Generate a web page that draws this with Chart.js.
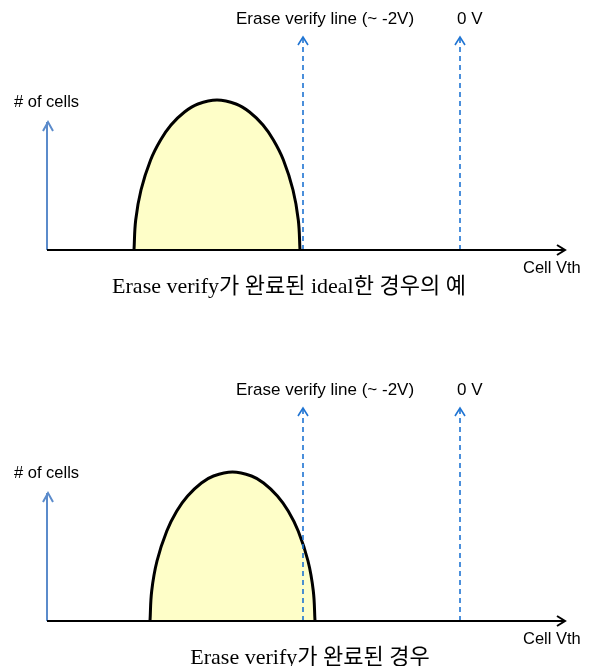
<!DOCTYPE html>
<html>
<head>
<meta charset="utf-8">
<script src="https://cdn.jsdelivr.net/npm/chart.js@4"></script>
<style>
  html, body { margin: 0; padding: 0; background: #fff; overflow: hidden; }
  .panel { position: absolute; left: 0; width: 592px; height: 371px; }
</style>
</head>
<body>
<div class="panel" style="top:0"><canvas id="graficoIdeal" width="592" height="371"></canvas></div>
<div class="panel" style="top:371px"><canvas id="graficoReal" width="592" height="371"></canvas></div>
<script>
// eixos (unidades arbitrarias: Vth na horizontal, # de celulas na vertical)
var xMax = 518;
var yMax = 213;
var yAxisTop = 128;

// linhas de referencia
var markerX = [256, 413];
var markerLabels = ['Erase verify line (~ -2V)', '0 V'];
var yLabel = '# of cells';
var xLabel = 'Cell Vth';

// distribuicao 1 (ideal)
var curvaIdealX = [87, 88.7, 94, 103.6, 113.6, 124, 137.5, 151, 170, 189, 202.5, 216, 226.4, 236.4, 246, 251.3, 253];
var curvaIdealY = [0, 30, 60, 90, 110, 125, 138, 146, 150, 146, 138, 125, 110, 90, 60, 30, 0];
var legendaIdeal = 'Erase verify가 완료된 ideal한 경우의 예';

// distribuicao 2
var curvaRealX = [103, 104.7, 110, 119.8, 129.8, 140.6, 154.4, 166.5, 185.5, 204.5, 216.6, 230.4, 241.2, 251.2, 261, 266.3, 268];
var curvaRealY = [0, 30, 60, 90, 110, 125, 138, 145, 149, 145, 138, 125, 110, 90, 60, 30, 0];
var legendaReal = 'Erase verify가 완료된 경우';

function pontos(xs, ys) {
	return xs.map(function(v, i) { return { x: v, y: ys[i] }; });
}

function seta(ctx, px, py, w, h, cor, lw) {
	ctx.save();
	ctx.strokeStyle = cor;
	ctx.lineWidth = lw;
	ctx.setLineDash([]);
	ctx.beginPath();
	ctx.moveTo(px - w, py + h);
	ctx.lineTo(px, py);
	ctx.lineTo(px + w, py + h);
	ctx.stroke();
	ctx.restore();
}

var anotacoes = {
	id: 'anotacoes',
	afterDatasetsDraw: function(chart) {
		var ctx = chart.ctx;
		var sx = chart.scales.x, sy = chart.scales.y;
		var x0 = sx.getPixelForValue(0), y0 = sy.getPixelForValue(0);
		var yTop = sy.getPixelForValue(yAxisTop);
		var xEnd = sx.getPixelForValue(xMax);

		// pontas de seta
		seta(ctx, x0 + 1, yTop, 5, 9, '#5b8bcb', 2);
		markerX.forEach(function(m) {
			seta(ctx, sx.getPixelForValue(m), sy.getPixelForValue(yMax), 5, 8, '#1f74d3', 1.6);
		});
		ctx.save();
		ctx.strokeStyle = '#000';
		ctx.lineWidth = 2;
		ctx.beginPath();
		ctx.moveTo(xEnd - 8, y0 - 5);
		ctx.lineTo(xEnd, y0);
		ctx.lineTo(xEnd - 8, y0 + 5);
		ctx.stroke();
		ctx.restore();

		// textos
		ctx.save();
		ctx.fillStyle = '#000';
		ctx.textBaseline = 'middle';
		ctx.font = '17px "Liberation Sans", Arial, sans-serif';
		ctx.textAlign = 'left';
		ctx.fillText(markerLabels[0], sx.getPixelForValue(markerX[0]) - 67, 19);
		ctx.fillText(markerLabels[1], sx.getPixelForValue(markerX[1]) - 3, 19);
		ctx.font = '16.5px "Liberation Sans", Arial, sans-serif';
		ctx.fillText(yLabel, x0 - 33, 102);
		ctx.fillText(xLabel, xEnd - 42, y0 + 18);
		ctx.font = '22px "Liberation Serif", "Times New Roman", "Noto Sans CJK KR", serif';
		ctx.textAlign = 'center';
		ctx.fillText(chart.options.plugins.legenda.texto, chart.options.plugins.legenda.cx, y0 + 37);
		ctx.restore();
	}
};

function criarGrafico(id, cx, cy, texto, centroTexto) {
	var ctx = document.getElementById(id).getContext('2d');
	var datasets = [];
	// eixo x
	datasets.push({
		data: [{ x: 0, y: 0 }, { x: xMax, y: 0 }],
		borderColor: '#000', borderWidth: 2, order: 0
	});
	// eixo y
	datasets.push({
		data: [{ x: 0, y: 0 }, { x: 0, y: yAxisTop }],
		borderColor: '#5b8bcb', borderWidth: 2, order: 0
	});
	// linhas tracejadas
	markerX.forEach(function(m) {
		datasets.push({
			data: [{ x: m, y: 0 }, { x: m, y: yMax }],
			borderColor: '#1f74d3', borderWidth: 1.6, borderDash: [5, 4], order: 1
		});
	});
	// distribuicao
	datasets.push({
		data: pontos(cx, cy),
		borderColor: '#000', borderWidth: 3,
		backgroundColor: '#fefec8',
		fill: 'origin', tension: 0.4, order: 2
	});
	datasets.forEach(function(d) {
		d.showLine = true;
		d.pointRadius = 0;
		d.clip = false;
		if (d.fill === undefined) d.fill = false;
	});

	return new Chart(ctx, {
		type: 'scatter',
		data: { datasets: datasets },
		options: {
			responsive: false,
			animation: false,
			layout: { padding: { left: 47, right: 27, top: 37, bottom: 121 } },
			scales: {
				x: { type: 'linear', min: 0, max: xMax, display: false },
				y: { type: 'linear', min: 0, max: yMax, display: false }
			},
			plugins: {
				legend: { display: false },
				tooltip: { enabled: false },
				legenda: { texto: texto, cx: centroTexto }
			}
		},
		plugins: [anotacoes]
	});
}

criarGrafico('graficoIdeal', curvaIdealX, curvaIdealY, legendaIdeal, 289);
criarGrafico('graficoReal', curvaRealX, curvaRealY, legendaReal, 310);
</script>
</body>
</html>
